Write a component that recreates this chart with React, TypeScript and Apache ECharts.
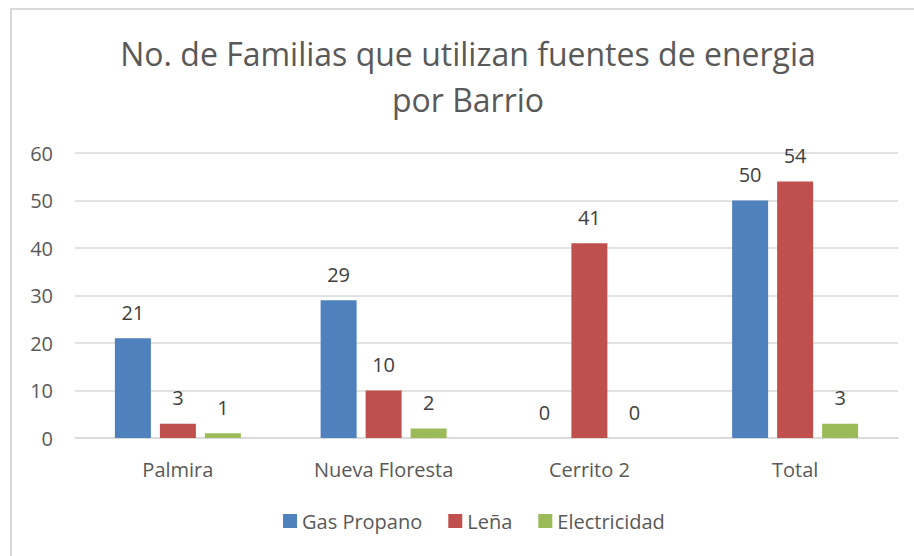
import React, { useEffect, useRef } from "react";
import * as echarts from "echarts";

const categories = ["Palmira", "Nueva Floresta", "Cerrito 2", "Total"];
const gasPropano = [21, 29, 0, 50];
const lena = [3, 10, 41, 54];
const electricidad = [1, 2, 0, 3];
const seriesNames = ["Gas Propano", "Leña", "Electricidad"];
const titleText = "No. de Familias que utilizan fuentes de energia\npor Barrio";

const FONT = "'Open Sans', 'Noto Sans', sans-serif";

export default function App() {
  const ref = useRef<HTMLDivElement>(null);
  useEffect(() => {
    if (!ref.current) return;
    const chart = echarts.init(ref.current, undefined, { renderer: "svg" });
    const label = {
      show: true,
      position: "top",
      distance: 16,
      color: "#404040",
      fontSize: 20,
      fontFamily: FONT,
    };
    chart.setOption({
      animation: false,
      backgroundColor: "#ffffff",
      textStyle: { fontFamily: FONT },
      graphic: [
        {
          type: "rect",
          shape: { x: 11, y: 9, width: 1000, height: 1000 },
          style: { fill: "none", stroke: "#d9d9d9", lineWidth: 2 },
          silent: true,
        },
        {
          type: "text",
          x: 468,
          y: 30,
          style: {
            text: titleText,
            textAlign: "center",
            textVerticalAlign: "top",
            fill: "#595959",
            font: `32px ${FONT}`,
            lineHeight: 46,
          },
        },
      ],
      legend: {
        data: seriesNames,
        bottom: 20,
        left: 278,
        itemWidth: 14,
        itemHeight: 14,
        itemGap: 26,
        icon: "rect",
        textStyle: { color: "#595959", fontSize: 20, fontFamily: FONT, padding: [0, 0, 0, 0] },
      },
      grid: { left: 75, right: 16, top: 153, bottom: 118, containLabel: false },
      xAxis: {
        type: "category",
        data: categories,
        axisLine: { lineStyle: { color: "#d9d9d9", width: 1.5 } },
        axisTick: { show: false },
        axisLabel: { color: "#595959", fontSize: 20, fontFamily: FONT, margin: 21 },
      },
      yAxis: {
        type: "value",
        min: 0,
        max: 60,
        interval: 10,
        axisLine: { show: false },
        axisTick: { show: false },
        axisLabel: { color: "#595959", fontSize: 20, fontFamily: FONT, margin: 22 },
        splitLine: { lineStyle: { color: "#d9d9d9", width: 1.5 } },
      },
      series: [
        { name: seriesNames[0], type: "bar", data: gasPropano, barWidth: 36, barGap: "25%", itemStyle: { color: "#4f81bd" }, label },
        { name: seriesNames[1], type: "bar", data: lena, barWidth: 36, barGap: "25%", itemStyle: { color: "#c0504d" }, label },
        { name: seriesNames[2], type: "bar", data: electricidad, barWidth: 36, barGap: "25%", itemStyle: { color: "#9bbb59" }, label },
      ],
    });
    return () => chart.dispose();
  }, []);
  return (
    <div
      ref={ref}
      style={{ position: "fixed", left: 0, top: 0, width: 914, height: 556 }}
    />
  );
}
